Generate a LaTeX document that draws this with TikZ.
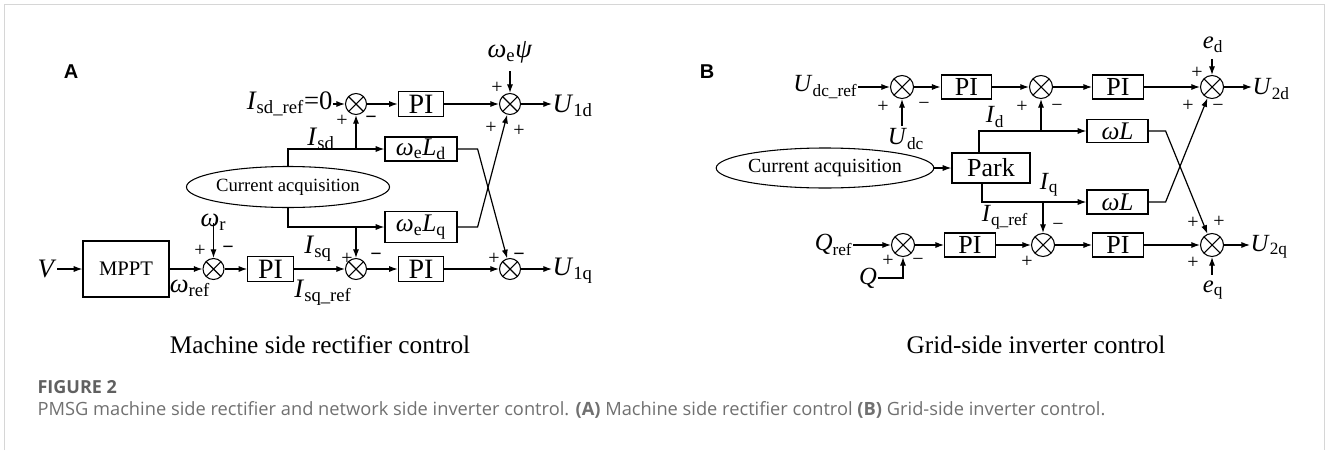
\documentclass[tikz,border=0pt]{standalone}
\usepackage{fontspec}
\setmainfont{Liberation Serif}
\newfontfamily\capfont{Open Sans}
\newfontfamily\panelfont{Liberation Sans}
\usetikzlibrary{arrows.meta,shapes.geometric,calc}
\definecolor{capgray}{HTML}{707070}
\definecolor{figgray}{HTML}{606060}
\definecolor{bordergray}{HTML}{D6D6D6}
\begin{document}
\begin{tikzpicture}[x=0.75pt,y=-0.75pt,line width=0.9pt,
  >={Latex[length=6.5pt,width=4.6pt]},
  blk/.style={draw,rectangle,inner sep=0pt,line width=0.9pt},
  sumx/.style={circle,draw,inner sep=0pt,fill=white,line width=0.8pt,
    path picture={\draw[line width=0.8pt] (path picture bounding box.south west) -- (path picture bounding box.north east)
      (path picture bounding box.north west) -- (path picture bounding box.south east);}},
  sumA/.style={sumx,minimum size=15.75pt},
  sumB/.style={sumx,minimum size=17.25pt},
  labA/.style={inner sep=0pt,font=\fontsize{20}{22}\selectfont},
  labB/.style={inner sep=0pt,font=\fontsize{18.5}{20}\selectfont},
  piA/.style={blk,minimum width=34pt,minimum height=19pt,font=\fontsize{21}{22}\selectfont},
  piB/.style={blk,minimum width=38pt,minimum height=18pt,font=\fontsize{19.5}{20}\selectfont},
  pm/.style={inner sep=0pt,font=\fontsize{15}{16}\selectfont},
  pmb/.style={inner sep=0pt,font=\bfseries\fontsize{15}{16}\selectfont},
  acq/.style={ellipse,draw,inner sep=0pt,line width=0.8pt},
  panel/.style={inner sep=0pt,font=\panelfont\bfseries\fontsize{15}{17}\selectfont},
  ttl/.style={inner sep=0pt,font=\fontsize{19}{21}\selectfont}]
\useasboundingbox (0,0) rectangle (1328,450);
\draw[bordergray,line width=0.9pt] (4.5,450) -- (4.5,4.5) -- (1324.5,4.5) -- (1324.5,450);

% ================= Panel A =================
\node[panel] (lA) at (71,72) {A};
% bottom row
\node[labA] (V) at (47,269) {\textit{V}};
\node[blk,minimum width=64.5pt,minimum height=42pt,font=\fontsize{15.5}{17}\selectfont] (mppt) at (126,269) {MPPT};
\node[sumA] (a1) at (213.5,269) {};
\node[labA] (wref) at (190,288) {\textit{ω}\textsubscript{ref}};
\node[labA] (wr) at (213.5,222) {\textit{ω}\textsubscript{r}};
\node[pm] (pa1p) at (200,251) {+};
\node[pmb] (pa1m) at (228,250) {−};
\node[piA] (pa1) at (270.5,269) {PI};
\node[sumA] (a2) at (356,269) {};
\node[labA] (isq) at (318,249) {\textit{I}\textsubscript{sq}};
\node[labA] (isqref) at (323,293) {\textit{I}\textsubscript{sq\_ref}};
\node[pm] (pa2p) at (347,259) {+};
\node[pmb] (pa2m) at (376,257) {−};
\node[piA] (pa2) at (421,269) {PI};
\node[sumA] (a3) at (510,269) {};
\node[pm] (pa3p) at (494,259) {+};
\node[pmb] (pa3m) at (519,257) {−};
\node[labA,anchor=west] (u1q) at (552,271) {\textit{U}\textsubscript{1q}};
% top row
\node[labA,anchor=east] (isdref) at (333,104) {\textit{I}\textsubscript{sd\_ref}=0};
\node[sumA] (a4) at (356,104) {};
\node[pm] (pa4p) at (342,121) {+};
\node[pmb] (pa4m) at (371,120) {−};
\node[piA] (pa3) at (421,104) {PI};
\node[sumA] (a5) at (510,104) {};
\node[labA] (wpsi) at (510,52) {\textit{ω}\textsubscript{e}\textit{ψ}};
\node[pm] (pa5a) at (497,88) {+};
\node[pm] (pa5b) at (491,128) {+};
\node[pm] (pa5c) at (519,131) {+};
\node[labA,anchor=west] (u1d) at (552,106) {\textit{U}\textsubscript{1d}};
% middle
\node[acq,minimum width=144.75pt,minimum height=30.75pt,font=\fontsize{14}{16}\selectfont] (ca) at (288,187) {Current acquisition};
\node[blk,minimum width=54pt,minimum height=18pt,font=\fontsize{19}{20}\selectfont] (ld) at (421,149) {\textit{ω}\textsubscript{e}\textit{L}\textsubscript{d}};
\node[blk,minimum width=54pt,minimum height=23pt,font=\fontsize{19}{20}\selectfont] (lq) at (421,227) {\textit{ω}\textsubscript{e}\textit{L}\textsubscript{q}};
\node[labA] (isd) at (321,139) {\textit{I}\textsubscript{sd}};

\draw[->] (V) -- (mppt);
\draw[->] (mppt) -- (a1);
\draw[->] (wr.south -| a1) ++(0,-8) -- (a1);
\draw[->] (a1) -- (pa1);
\draw[->] (pa1.east) -- (a2);
\draw[->] (a2) -- (pa2);
\draw[->] (pa2) -- (a3);
\draw[->] (a3) -- (a3 -| u1q.west);
\draw[->] (isdref) -- (a4);
\draw[->] (a4) -- (pa3);
\draw[->] (pa3) -- (a5);
\draw[->] ([yshift=-6pt]wpsi.south -| a5) -- (a5);
\draw[->] (a5) -- (a5 -| u1d.west);
\draw[->] (ca.north) |- (ld.west);
\draw[->] (ca.south) |- (lq.west);
\draw[->] (a4 |- ld.west) -- (a4);
\draw[->] (a2 |- lq.west) -- (a2);
\draw[->] (ld.east) -- ++(20,0) -- (a3);
\draw[->] (lq.east) -- ++(20,0) -- (a5);

\node[ttl] (tA) at (320,345) {Machine side rectifier control};

% ================= Panel B =================
\node[panel] (lB) at (707,72) {B};
% top row
\node[labB,anchor=east] (udcref) at (858,87) {\textit{U}\textsubscript{dc\_ref}};
\node[sumB] (b1) at (902,87) {};
\node[labB] (udc) at (906,139) {\textit{U}\textsubscript{dc}};
\node[pm] (pb1p) at (883,107) {+};
\node[pm] (pb1m) at (924,106) {−};
\node[piB] (pb1) at (966.5,87) {PI};
\node[sumB] (b2) at (1041,87) {};
\node[pm] (pb2p) at (1022,107) {+};
\node[pm] (pb2m) at (1057,108) {−};
\node[labB] (id) at (995,117) {\textit{I}\textsubscript{d}};
\node[piB] (pb2) at (1118,87) {PI};
\node[sumB] (b3) at (1212,87) {};
\node[labB] (ed) at (1213,45) {\textit{e}\textsubscript{d}};
\node[pm] (pb3a) at (1197,73) {+};
\node[pm] (pb3b) at (1188,106) {+};
\node[pm] (pb3c) at (1218,108) {−};
\node[labB,anchor=west] (u2d) at (1252,89) {\textit{U}\textsubscript{2d}};
% middle
\node[acq,minimum width=162pt,minimum height=30pt,font=\fontsize{15}{17}\selectfont] (cb) at (825,168) {Current acquisition};
\node[blk,minimum width=58.5pt,minimum height=22.5pt,font=\fontsize{19.5}{21}\selectfont] (park) at (991,168) {Park};
\node[blk,minimum width=45.75pt,minimum height=17.25pt,font=\fontsize{19}{20}\selectfont] (wl1) at (1117.5,131) {\textit{ωL}};
\node[blk,minimum width=45.75pt,minimum height=18pt,font=\fontsize{19}{20}\selectfont] (wl2) at (1117.5,202) {\textit{ωL}};
\node[labB] (iq) at (1049,185) {\textit{I}\textsubscript{q}};
\node[labB] (iqref) at (1005,217) {\textit{I}\textsubscript{q\_ref}};
% bottom row
\node[labB,anchor=east] (qref) at (853,245) {\textit{Q}\textsubscript{ref}};
\node[sumB] (b5) at (903,245) {};
\node[labB] (q) at (868,278) {\textit{Q}};
\node[pm] (pb5p) at (888,261) {+};
\node[pm] (pb5m) at (918,262) {−};
\node[piB] (pb3) at (970,245) {PI};
\node[sumB] (b4) at (1043,245) {};
\node[pm] (pb4m) at (1058,227) {−};
\node[pm] (pb4p) at (1027,262) {+};
\node[piB] (pb4) at (1118,245) {PI};
\node[sumB] (b6) at (1212,245) {};
\node[pm] (pb6a) at (1193,223) {+};
\node[pm] (pb6b) at (1219,222) {+};
\node[pm] (pb6c) at (1193,263) {+};
\node[labB] (eq) at (1213,290) {\textit{e}\textsubscript{q}};
\node[labB,anchor=west] (u2q) at (1250,247) {\textit{U}\textsubscript{2q}};

\draw[->] (udcref) -- (b1);
\draw[->] ([yshift=2pt]udc.north -| b1) -- (b1);
\draw[->] (b1) -- (pb1);
\draw[->] (pb1) -- (b2);
\draw[->] (b2) -- (pb2);
\draw[->] (pb2) -- (b3);
\draw[->] ([yshift=-4pt]ed.south -| b3) -- (b3);
\draw[->] (b3) -- (b3 -| u2d.west);
\draw[->] (cb) -- (park);
\draw[->] ([xshift=-9pt]park.north) |- (wl1.west);
\draw[->] ([xshift=-6.75pt]park.south) |- (wl2.west);
\draw[->] (b2 |- wl1.west) -- (b2);
\draw[->] (b4 |- wl2.west) -- (b4);
\draw[->] (wl1.east) -- ++(17,0) -- (b6);
\draw[->] (wl2.east) -- ++(17,0) -- (b3);
\draw[->] (qref) -- (b5);
\draw[->] (q.east) -| (b5);
\draw[->] (b5) -- (pb3);
\draw[->] (pb3) -- (b4);
\draw[->] (b4) -- (pb4);
\draw[->] (pb4) -- (b6);
\draw[->] ([yshift=4pt]eq.north -| b6) -- (b6);
\draw[->] (b6) -- (b6 -| u2q.west);

\node[ttl] (tB) at (1036,345) {Grid-side inverter control};

% ================= Caption =================
\node[anchor=west,inner sep=0pt,text=figgray,font=\capfont\bfseries\fontsize{13.5}{15}\selectfont] (fig) at (37,387) {FIGURE 2};
\node[anchor=west,inner sep=0pt,text=capgray,font=\capfont\fontsize{13.7}{16}\selectfont] (cap) at (37,410) {PMSG machine side rectifier and network side inverter control. \textbf{(A)} Machine side rectifier control \textbf{(B)} Grid-side inverter control.};
\end{tikzpicture}
\end{document}
